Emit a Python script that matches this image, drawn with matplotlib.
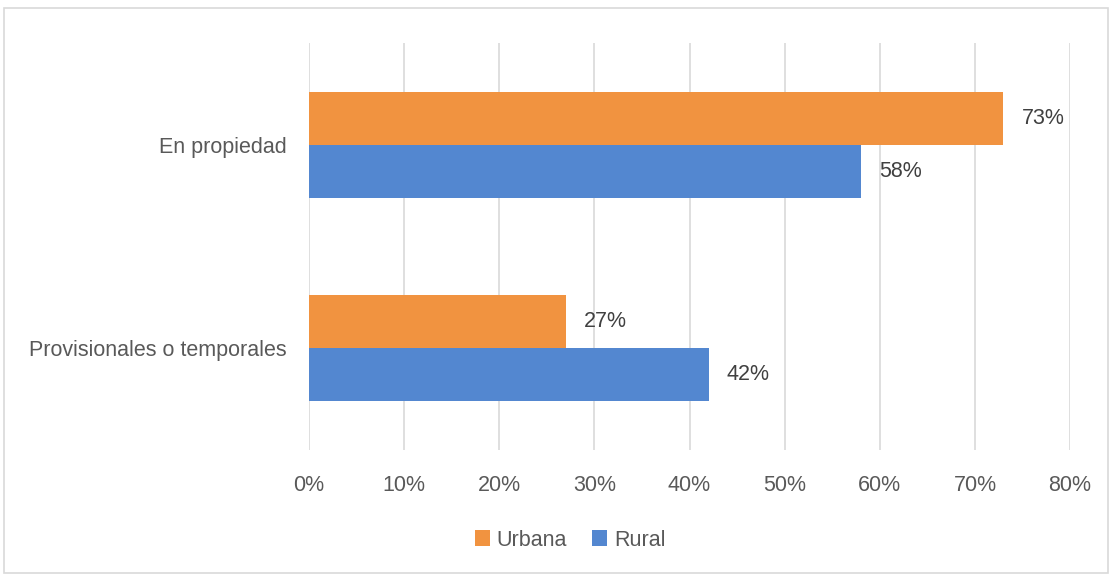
import numpy as np
import matplotlib.pyplot as plt
from matplotlib.patches import Rectangle

categorias = ["Provisionales o temporales", "En propiedad"]
urbana = [27, 73]
rural = [42, 58]
series = ["Urbana", "Rural"]
ticks = [0, 10, 20, 30, 40, 50, 60, 70, 80]

color_urbana = "#F19340"
color_rural = "#5387D0"
gris = "#595959"

plt.rcParams['font.family'] = ['Liberation Sans', 'DejaVu Sans']

fig = plt.figure(figsize=(11.12, 5.77), dpi=100)
ax = fig.add_axes([0.2779, 0.2201, 0.6844, 0.7054])

# marco gris alrededor del gráfico
fig.patches.append(Rectangle((4 / 1112, 4 / 577), 1104 / 1112, 565 / 577,
                             transform=fig.transFigure, fill=False,
                             edgecolor="#D9D9D9", linewidth=1.2))

y = np.arange(len(categorias))
h = 0.26
b1 = ax.barh(y + h / 2, urbana, height=h, color=color_urbana, label=series[0], zorder=3)
b2 = ax.barh(y - h / 2, rural, height=h, color=color_rural, label=series[1], zorder=3)

for barras, vals in ((b1, urbana), (b2, rural)):
    for b, v in zip(barras, vals):
        ax.annotate(f"{v}%", (v, b.get_y() + b.get_height() / 2),
                    xytext=(13, 0), textcoords="offset points",
                    va="center", ha="left", fontsize=15.5, color="#404040")

ax.set_xlim(0, 80)
ax.set_ylim(-0.5, 1.5)
ax.set_xticks(ticks)
ax.set_xticklabels([f"{t}%" for t in ticks])
ax.set_yticks(y)
ax.set_yticklabels(categorias)
ax.tick_params(axis="both", length=0, labelsize=15.5, colors=gris)
ax.tick_params(axis="x", pad=18)
ax.tick_params(axis="y", pad=16)
ax.grid(axis="x", color="#D9D9D9", linewidth=1.2, zorder=0)
for s in ax.spines.values():
    s.set_visible(False)

fig.legend(loc="center", bbox_to_anchor=(570 / 1112, 1 - 540 / 577), ncol=2,
           frameon=False, fontsize=15.5, labelcolor=gris, handlelength=0.7,
           handleheight=0.7, handletextpad=0.3, columnspacing=1.2)

plt.savefig("out.png", dpi=100)
